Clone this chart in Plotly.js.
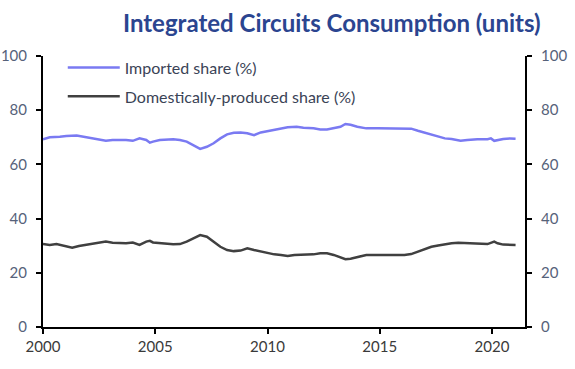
<!DOCTYPE html>
<html>
<head>
<meta charset="utf-8">
<script src="https://cdn.plot.ly/plotly-3.0.1.min.js"></script>
<style>html,body{margin:0;padding:0;background:#fff;}#chart{width:575px;height:369px;}</style>
</head>
<body>
<div id="chart"></div>
<script>
var chartTitle = "Integrated Circuits Consumption (units)";
var seriesNames = ["Imported share (%)", "Domestically-produced share (%)"];
var xTickVals = [2000, 2005, 2010, 2015, 2020];
var xTickText = ["2000", "2005", "2010", "2015", "2020"];
var yTickVals = [0, 20, 40, 60, 80, 100];

var importedYears = [2000.0, 2000.3, 2000.75, 2001.04, 2001.5, 2001.8, 2002.2, 2002.5, 2002.8, 2003.1, 2003.4, 2003.7, 2004.0, 2004.3, 2004.6, 2004.76, 2004.9, 2005.2, 2005.8, 2006.1, 2006.4, 2006.7, 2007.0, 2007.3, 2007.6, 2007.9, 2008.2, 2008.5, 2008.8, 2009.1, 2009.4, 2009.7, 2010.0, 2010.3, 2010.6, 2010.9, 2011.3, 2011.6, 2012.05, 2012.35, 2012.65, 2012.95, 2013.25, 2013.47, 2013.7, 2014.0, 2014.4, 2014.9, 2015.5, 2016.1, 2016.4, 2016.7, 2017.0, 2017.3, 2017.6, 2017.9, 2018.2, 2018.5, 2018.6, 2018.9, 2019.35, 2019.8, 2019.95, 2020.1, 2020.25, 2020.5, 2020.8, 2021.05];
var importedShare = [69.3, 70.0, 70.2, 70.5, 70.7, 70.2, 69.6, 69.0, 68.7, 69.0, 69.0, 69.0, 68.7, 69.6, 69.0, 68.0, 68.4, 69.0, 69.3, 69.0, 68.4, 67.2, 65.7, 66.5, 67.8, 69.6, 71.1, 71.7, 71.8, 71.5, 70.8, 71.8, 72.3, 72.7, 73.2, 73.7, 73.9, 73.5, 73.3, 72.9, 72.9, 73.3, 73.9, 74.9, 74.6, 73.9, 73.3, 73.3, 73.3, 73.3, 73.2, 72.4, 71.7, 70.8, 70.2, 69.6, 69.4, 69.0, 68.7, 69.0, 69.3, 69.3, 69.6, 68.7, 69.0, 69.4, 69.6, 69.5];

var domesticYears = [2000.0, 2000.3, 2000.6, 2000.9, 2001.2, 2001.3, 2001.6, 2001.9, 2002.2, 2002.5, 2002.8, 2003.1, 2003.4, 2003.7, 2004.0, 2004.3, 2004.6, 2004.76, 2004.9, 2005.2, 2005.8, 2006.1, 2006.4, 2006.7, 2007.0, 2007.3, 2007.6, 2007.9, 2008.2, 2008.5, 2008.8, 2009.1, 2009.4, 2009.7, 2010.0, 2010.3, 2010.6, 2010.9, 2011.2, 2011.6, 2012.05, 2012.35, 2012.65, 2012.95, 2013.25, 2013.47, 2013.7, 2014.0, 2014.4, 2014.9, 2015.5, 2016.1, 2016.4, 2016.7, 2017.0, 2017.3, 2017.6, 2017.9, 2018.2, 2018.5, 2018.9, 2019.35, 2019.8, 2020.1, 2020.25, 2020.5, 2020.8, 2021.05];
var domesticShare = [30.6, 30.3, 30.6, 30.0, 29.6, 29.3, 29.9, 30.3, 30.5, 31.1, 31.5, 31.1, 30.9, 30.9, 31.2, 30.3, 31.5, 31.8, 31.2, 30.9, 30.5, 30.6, 31.5, 32.7, 33.9, 33.3, 31.5, 29.6, 28.4, 28.0, 28.2, 29.0, 28.4, 27.8, 27.2, 26.8, 26.6, 26.2, 26.6, 26.6, 26.8, 27.2, 27.2, 26.6, 25.7, 25.0, 25.2, 25.9, 26.6, 26.6, 26.6, 26.6, 26.9, 27.8, 28.8, 29.6, 30.1, 30.6, 30.9, 31.1, 30.9, 30.6, 30.6, 31.5, 30.9, 30.4, 30.3, 30.3];

var traces = [
  {x: importedYears, y: importedShare, name: seriesNames[0], type: 'scatter', mode: 'lines',
   line: {color: '#7a7af2', width: 2.5}, legendgroup: 'a', xaxis: 'x', yaxis: 'y'},
  {x: domesticYears, y: domesticShare, name: seriesNames[1], type: 'scatter', mode: 'lines',
   line: {color: '#404040', width: 2.5}, legendgroup: 'b', xaxis: 'x', yaxis: 'y2'}
];

var axisFont = {family: 'Lato, "Open Sans", sans-serif', size: 15, color: '#56627a'};
var layout = {
  width: 575, height: 369,
  margin: {l: 43, r: 50, t: 56, b: 42, pad: 0},
  paper_bgcolor: '#ffffff', plot_bgcolor: '#ffffff',
  title: {text: chartTitle, font: {family: 'Lato, sans-serif', size: 24, color: '#2b4590', weight: 'bold'},
          xref: 'container', x: 0.577, xanchor: 'center', yref: 'container', y: 0.935, yanchor: 'middle'},
  showlegend: true,
  legend: {x: 0.041, y: 1.02, xanchor: 'left', yanchor: 'top', bgcolor: 'rgba(0,0,0,0)',
           font: {family: 'Lato, sans-serif', size: 16, color: '#3a4356'},
           traceorder: 'grouped', tracegroupgap: 5, itemwidth: 52},
  xaxis: {range: [2000, 2021.47], tickmode: 'array', tickvals: xTickVals, ticktext: xTickText,
          showgrid: false, zeroline: false, showline: true, linecolor: '#000', linewidth: 2,
          ticks: 'outside', ticklen: 5, tickwidth: 2, tickcolor: '#000',
          tickfont: {family: 'Lato, sans-serif', size: 15, color: '#3a3a3a'}, fixedrange: true},
  yaxis: {range: [0, 100], tickmode: 'array', tickvals: yTickVals, showgrid: false, zeroline: false,
          showline: true, linecolor: '#000', linewidth: 2, ticks: 'outside', ticklen: 5, tickwidth: 2,
          tickcolor: '#000', tickfont: axisFont, ticklabelstandoff: 6},
  yaxis2: {range: [0, 100], overlaying: 'y', side: 'right', anchor: 'x', tickmode: 'array', tickvals: yTickVals,
           showgrid: false, zeroline: false, showline: true, linecolor: '#000', linewidth: 2,
           ticks: 'outside', ticklen: 5, tickwidth: 2, tickcolor: '#000', tickfont: axisFont, ticklabelstandoff: 6}
};

Plotly.newPlot('chart', traces, layout, {displayModeBar: false, staticPlot: true});
</script>
</body>
</html>
